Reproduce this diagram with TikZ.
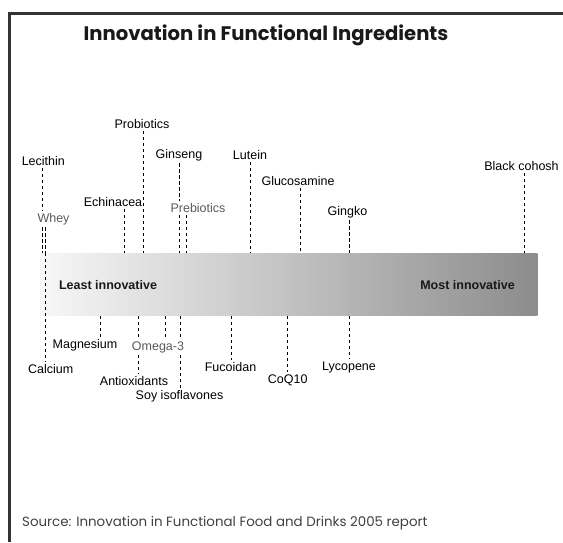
\documentclass[tikz,border=0pt]{standalone}
\usepackage{fontspec}
\setmainfont{Liberation Sans}
\newfontfamily\titlefont{Poppins}
\begin{document}
\begin{tikzpicture}[x=1pt,y=-1pt,
  lbl/.style={font=\fontsize{12.5}{14}\selectfont, inner sep=2pt, text=black},
  glbl/.style={lbl, text=black!65},
  boldlbl/.style={font=\fontsize{12.5}{14}\selectfont\bfseries, inner sep=0pt, text=black!90},
  titlestyle/.style={font=\titlefont\fontsize{19.6}{23}\selectfont\bfseries, inner sep=0pt, text=black!90},
  srcstyle/.style={font=\titlefont\fontsize{13.4}{16}\selectfont, inner sep=0pt, text=black!75, anchor=west},
  barstyle/.style={rectangle, inner sep=0pt, draw=none, left color=black!3, right color=black!45},
  dline/.style={draw=black, line width=0.9pt, dash pattern=on 3.5pt off 2.5pt},
  framestyle/.style={draw=black!80, line width=3pt},
  ]
\useasboundingbox (0,0) rectangle (563,542);
\draw[framestyle] (9,542) |- (563,13.5);

\node[titlestyle] (title) at (266,35) {Innovation in Functional Ingredients};
\node[barstyle, minimum width=497.3pt, minimum height=62.7pt] (bar) at (288.7,284.4) {};
\node[boldlbl] (least) at (108,285) {Least innovative};
\node[boldlbl] (most) at (467.5,285) {Most innovative};

% labels above the bar
\node[lbl] (lec) at (43.3,161) {Lecithin};
\node[glbl] (whey) at (53.5,219) {Whey};
\node[lbl] (ech) at (113,202) {Echinacea};
\node[lbl] (prob) at (142,124) {Probiotics};
\node[lbl] (gins) at (179,155) {Ginseng};
\node[glbl] (preb) at (198,208) {Prebiotics};
\node[lbl] (lut) at (250,155) {Lutein};
\node[lbl] (gluc) at (298,181) {Glucosamine};
\node[lbl] (ging) at (347.5,212) {Gingko};
\node[lbl] (blk) at (521.5,166) {Black cohosh};

% labels below the bar
\node[lbl] (calc) at (50.7,369) {Calcium};
\node[lbl] (mag) at (85,345) {Magnesium};
\node[glbl] (omega) at (158,347) {Omega-3};
\node[lbl] (anti) at (134,381) {Antioxidants};
\node[lbl] (soy) at (179.5,396) {Soy isoflavones};
\node[lbl] (fuc) at (230.5,367) {Fucoidan};
\node[lbl] (coq) at (287.7,380) {CoQ10};
\node[lbl] (lyc) at (349,367) {Lycopene};

\node[srcstyle] (src) at (22,523) {Source: Innovation in Functional Food and Drinks 2005 report};

% x positions of the connectors
\coordinate (xlec) at (42.7,0);
\coordinate (xwhey) at (45.7,0);
\coordinate (xech) at (124,0);
\coordinate (xprob) at (143.3,0);
\coordinate (xgins) at (179,0);
\coordinate (xpreb) at (186.7,0);
\coordinate (xlut) at (250.7,0);
\coordinate (xgluc) at (300,0);
\coordinate (xging) at (349,0);
\coordinate (xblk) at (524.3,0);
\coordinate (xcalc) at (45.7,0);
\coordinate (xmag) at (100.7,0);
\coordinate (xomega) at (165.7,0);
\coordinate (xanti) at (138.7,0);
\coordinate (xsoy) at (180,0);
\coordinate (xfuc) at (231,0);
\coordinate (xcoq) at (287.3,0);
\coordinate (xlyc) at (349,0);

% connectors above
\draw[dline] (lec.south -| xlec) -- (xlec |- whey.north);
\draw[dline] (whey.south -| xlec) -- (xlec |- bar.north);
\draw[dline] (whey.south -| xwhey) -- (xwhey |- bar.north);
\draw[dline] (ech.south -| xech) -- (xech |- bar.north);
\draw[dline] (prob.south -| xprob) -- (xprob |- bar.north);
\draw[dline] (gins.south -| xgins) -- (xgins |- preb.north);
\draw[dline] (preb.south -| xgins) -- (xgins |- bar.north);
\draw[dline] (preb.south -| xpreb) -- (xpreb |- bar.north);
\draw[dline] (lut.south -| xlut) -- (xlut |- bar.north);
\draw[dline] (gluc.south -| xgluc) -- (xgluc |- bar.north);
\draw[dline] (ging.south -| xging) -- (xging |- bar.north);
\draw[dline] (blk.south -| xblk) -- (xblk |- bar.north);

% connectors below
\draw[dline] (bar.north -| xcalc) -- (xcalc |- calc.north);
\draw[dline] (bar.south -| xmag) -- (xmag |- mag.north);
\draw[dline] (bar.south -| xomega) -- (xomega |- omega.north);
\draw[dline] (bar.south -| xanti) -- (xanti |- omega.north);
\draw[dline] (omega.south -| xanti) -- (xanti |- anti.north);
\draw[dline] (bar.south -| xsoy) -- (xsoy |- omega.north);
\draw[dline] (omega.south -| xsoy) -- (xsoy |- soy.north);
\draw[dline] (bar.south -| xfuc) -- (xfuc |- fuc.north);
\draw[dline] (bar.south -| xcoq) -- (xcoq |- coq.north);
\draw[dline] (bar.south -| xlyc) -- (xlyc |- lyc.north);
\end{tikzpicture}
\end{document}
